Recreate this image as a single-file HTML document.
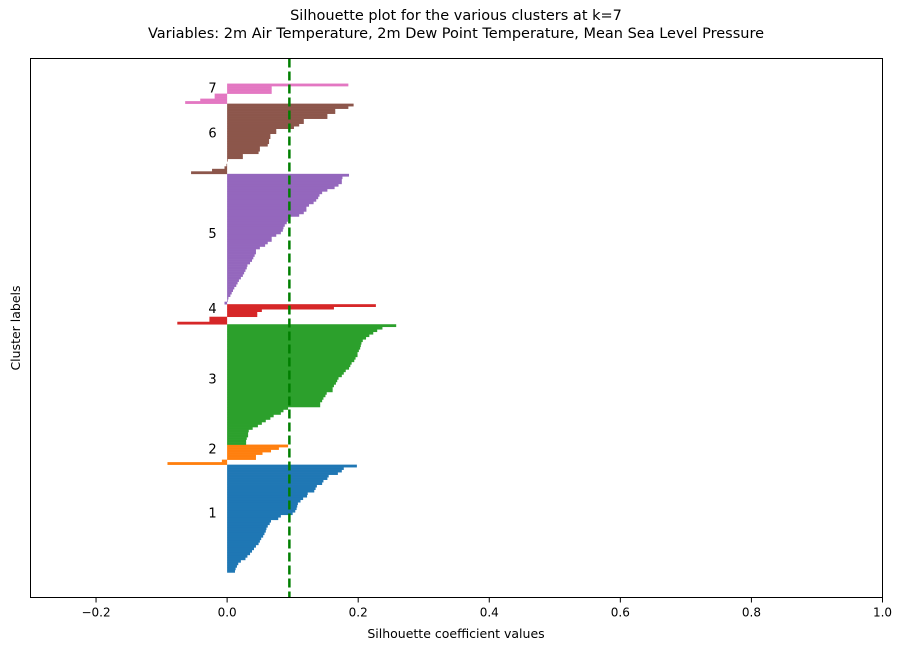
<!DOCTYPE html>
<html><head><meta charset="utf-8"><style>
body{margin:0;background:#fff;font-family:"Liberation Sans","DejaVu Sans",sans-serif}
svg text{font-family:"DejaVu Sans","Liberation Sans",sans-serif}
</style></head><body>
<svg id="chart" width="903" height="650" xmlns="http://www.w3.org/2000/svg">
<text x="456" y="20" font-size="14.5" text-anchor="middle">Silhouette plot for the various clusters at k=7</text>
<text x="456" y="38" font-size="14.5" text-anchor="middle">Variables: 2m Air Temperature, 2m Dew Point Temperature, Mean Sea Level Pressure</text>
<g id="marks"></g>
<rect x="30.5" y="58.5" width="852" height="539" fill="none" stroke="#000" stroke-width="1"/>
<g id="xticks"></g>
<text x="456" y="638" font-size="12.5" text-anchor="middle">Silhouette coefficient values</text>
<text transform="translate(20,328) rotate(-90)" font-size="12.5" text-anchor="middle">Cluster labels</text>
</svg>
<script>
const clusterLabels = ["1","2","3","4","5","6","7"];
const clusterColors = ["#1f77b4","#ff7f0e","#2ca02c","#d62728","#9467bd","#8c564b","#e377c2"];
const c1 = [0.012,0.013,0.015,0.017,0.021,0.028,0.031,0.035,0.038,0.041,0.044,0.048,0.050,0.052,0.055,0.057,0.059,0.060,0.062,0.065,0.067,0.078,0.082,0.100,0.104,0.106,0.107,0.108,0.112,0.116,0.122,0.123,0.133,0.135,0.137,0.145,0.147,0.153,0.155,0.169,0.175,0.178,0.198];
const c2 = [-0.091,-0.008,0.044,0.044,0.054,0.067,0.079,0.093];
const c3 = [0.029,0.029,0.030,0.032,0.032,0.033,0.039,0.047,0.053,0.059,0.066,0.071,0.082,0.086,0.093,0.142,0.142,0.145,0.147,0.150,0.152,0.161,0.161,0.163,0.166,0.168,0.170,0.175,0.178,0.181,0.186,0.188,0.190,0.194,0.196,0.199,0.199,0.201,0.203,0.204,0.205,0.207,0.212,0.217,0.223,0.229,0.237,0.258];
const c4 = [-0.076,-0.027,-0.027,0.046,0.046,0.053,0.163,0.227];
const c5 = [-0.004,0.001,0.002,0.005,0.007,0.009,0.011,0.014,0.016,0.018,0.021,0.024,0.026,0.028,0.030,0.031,0.035,0.038,0.040,0.042,0.044,0.044,0.050,0.058,0.062,0.068,0.068,0.075,0.082,0.085,0.086,0.088,0.091,0.093,0.095,0.110,0.117,0.121,0.121,0.125,0.132,0.136,0.139,0.141,0.145,0.153,0.164,0.170,0.175,0.175,0.176,0.186];
const c6 = [-0.055,-0.023,-0.004,-0.001,0.0,0.001,0.024,0.024,0.048,0.050,0.050,0.062,0.064,0.064,0.066,0.066,0.075,0.075,0.102,0.110,0.117,0.117,0.153,0.153,0.165,0.165,0.185,0.193];
const c7 = [-0.064,-0.041,-0.019,-0.019,0.068,0.068,0.068,0.185];
const clusters = [c1,c2,c3,c4,c5,c6,c7];
const averageScore = 0.095;
const xTicks = [-0.2,0.0,0.2,0.4,0.6,0.8,1.0];
const xTickLabels = ["\u22120.2","0.0","0.2","0.4","0.6","0.8","1.0"];

const NS="http://www.w3.org/2000/svg";
const L=30.5,R=882.5,T=58.5,B=597.5;
const xMin=-0.3,xMax=1.0;
const n=clusters.reduce((a,c)=>a+c.length,0);
const yMax=n+20;
const xs=v=>L+(v-xMin)/(xMax-xMin)*(R-L);
const ys=u=>B-u/yMax*(B-T);
const marks=document.getElementById('marks');
let yl=10;
clusters.forEach((vals,ci)=>{
  const g=document.createElementNS(NS,'g');
  
  
  const sorted=vals.slice().sort((a,b)=>a-b);
  sorted.forEach((v,i)=>{
    const r=document.createElementNS(NS,'rect');
    
    
    const x0=xs(Math.min(0,v)),x1=xs(Math.max(0,v));
    const yt=ys(yl+i+1),yb=ys(yl+i);
    r.setAttribute('x',x0);r.setAttribute('width',Math.max(0.01,x1-x0));
    r.setAttribute('y',yt);r.setAttribute('height',yb-yt+0.3);
    r.setAttribute('fill',clusterColors[ci]);
    g.appendChild(r);
  });
  marks.appendChild(g);
  const t=document.createElementNS(NS,'text');
  
  
  t.setAttribute('x',xs(-0.05)+14);
  t.setAttribute('y',ys(yl+0.5*vals.length)-1);
  t.setAttribute('font-size','13');
  t.textContent=clusterLabels[ci];
  marks.appendChild(t);
  yl+=vals.length;
});
const avg=document.createElementNS(NS,'line');


avg.setAttribute('x1',xs(averageScore));avg.setAttribute('x2',xs(averageScore));
avg.setAttribute('y1',T);avg.setAttribute('y2',B);
avg.setAttribute('stroke','#007f00');avg.setAttribute('stroke-width','2.5');
avg.setAttribute('stroke-dasharray','9,4');
marks.appendChild(avg);
const xt=document.getElementById('xticks');
xTicks.forEach((v,i)=>{
  const l=document.createElementNS(NS,'line');
  
  
  l.setAttribute('x1',xs(v));l.setAttribute('x2',xs(v));
  l.setAttribute('y1',B);l.setAttribute('y2',B+5);
  l.setAttribute('stroke','#000');
  xt.appendChild(l);
  const t=document.createElementNS(NS,'text');
  
  
  t.setAttribute('x',xs(v));t.setAttribute('y',B+19);
  t.setAttribute('font-size','12');t.setAttribute('text-anchor','middle');
  t.textContent=xTickLabels[i];
  xt.appendChild(t);
});
</script>
</body></html>
